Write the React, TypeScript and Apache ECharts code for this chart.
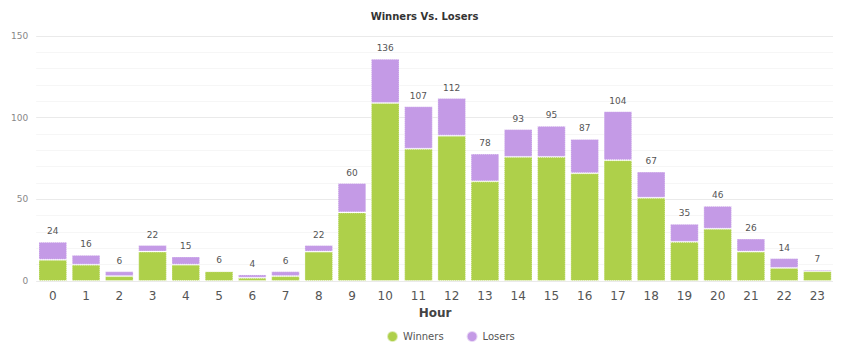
import React, { useEffect, useRef } from "react";
import * as echarts from "echarts";

const hours = ["0","1","2","3","4","5","6","7","8","9","10","11","12","13","14","15","16","17","18","19","20","21","22","23"];
const winners = [13, 10, 3, 18, 10, 6, 2, 3, 18, 42, 109, 81, 89, 61, 76, 76, 66, 74, 51, 24, 32, 18, 8, 6];
const losers = [11, 6, 3, 4, 5, 0, 2, 3, 4, 18, 27, 26, 23, 17, 17, 19, 21, 30, 16, 11, 14, 8, 6, 1];
const totals = winners.map((w, i) => w + losers[i]);

export default function App() {
  const ref = useRef<HTMLDivElement>(null);
  useEffect(() => {
    const chart = echarts.init(ref.current!, null, { renderer: "svg" });
    const font = "Verdana, 'DejaVu Sans', sans-serif";
    chart.setOption({
      animation: false,
      title: {
        text: "Winners Vs. Losers",
        left: "center",
        top: -2,
        textStyle: { fontSize: 10, fontWeight: "bold", color: "#333", fontFamily: font },
      },
      legend: {
        top: 317,
        left: 373,
        icon: "circle",
        itemWidth: 11,
        itemHeight: 11,
        itemGap: 22,
        textStyle: { fontSize: 10, color: "#555", fontFamily: font },
        data: ["Winners", "Losers"],
      },
      grid: { left: 27, right: 7, top: 28, bottom: 67 },
      xAxis: {
        type: "category",
        data: hours,
        name: "Hour",
        nameLocation: "middle",
        nameGap: 25,
        nameTextStyle: { fontSize: 12, fontWeight: "bold", color: "#444", fontFamily: font },
        axisLine: { show: false },
        axisTick: { show: false },
        axisLabel: { fontSize: 12, color: "#555", margin: 9, fontFamily: font },
      },
      yAxis: {
        type: "value",
        min: 0,
        max: 150,
        interval: 50,
        axisLabel: { fontSize: 9, color: "#888", margin: 8, fontFamily: font },
        splitLine: { lineStyle: { color: "#eaeaea" } },
        minorTick: { show: false, splitNumber: 5 },
        minorSplitLine: { show: true, lineStyle: { color: "#f6f6f6" } },
      },
      series: [
        {
          name: "Winners",
          type: "bar",
          stack: "total",
          data: winners,
          barCategoryGap: "14%",
          itemStyle: { color: "#aed04a", borderColor: "rgba(255,255,255,0.6)", borderWidth: 1, borderType: "dotted" },
        },
        {
          name: "Losers",
          type: "bar",
          stack: "total",
          data: losers,
          barCategoryGap: "14%",
          itemStyle: { color: "#c49ae6", borderColor: "rgba(255,255,255,0.6)", borderWidth: 1, borderType: "dotted" },
          label: {
            show: true,
            position: "top",
            distance: 6,
            fontSize: 9,
            color: "#555",
            fontFamily: font,
            formatter: (p: any) => String(totals[p.dataIndex]),
          },
        },
      ],
    });
    return () => chart.dispose();
  }, []);
  return <div ref={ref} style={{ width: 833, height: 340 }} />;
}
